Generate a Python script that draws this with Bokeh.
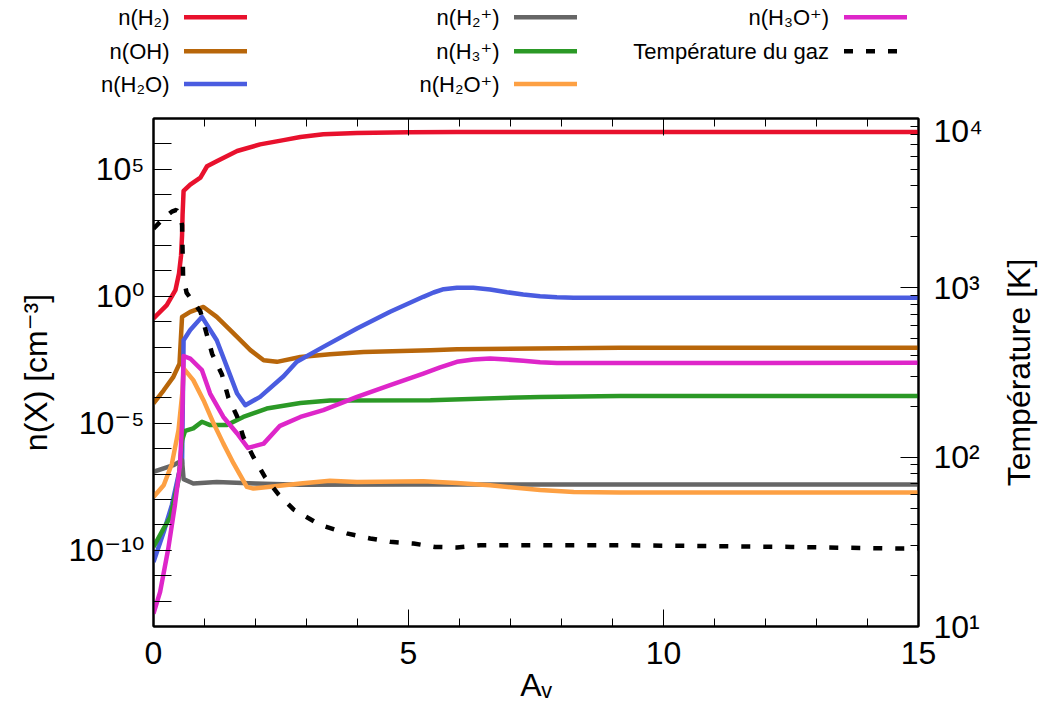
import math
import numpy as np
from bokeh.plotting import figure
from bokeh.models import (Range1d, LogScale, LogAxis, LinearAxis, FixedTicker,
                          CustomJSTickFormatter)
from bokeh.layouts import column, row
from bokeh.embed import file_html
from bokeh.resources import INLINE
from bokeh.core.properties import value

FONT = "Liberation Sans, DejaVu Sans"

# ---------------- data (Av, log10 of density in cm^-3 / temperature in K) ----------------
h2_av = [0.00, 0.26, 0.43, 0.50, 0.54, 0.56, 0.57, 0.59, 0.72, 0.92, 1.05, 1.24, 1.64, 2.09, 2.55, 2.88, 3.33, 3.99, 5.00, 5.95, 8.00, 10.0, 15.0]
h2_log = [-0.87, -0.35, 0.24, 0.90, 1.60, 2.40, 3.20, 4.15, 4.40, 4.67, 5.12, 5.32, 5.72, 5.98, 6.15, 6.27, 6.38, 6.43, 6.46, 6.47, 6.47, 6.47, 6.47]

oh_av = [0.00, 0.20, 0.39, 0.51, 0.56, 0.72, 0.98, 1.24, 1.57, 1.90, 2.16, 2.42, 2.88, 3.46, 4.12, 5.43, 5.95, 9.15, 15.0]
oh_log = [-4.22, -3.70, -3.17, -2.65, -0.81, -0.61, -0.42, -0.81, -1.46, -2.12, -2.52, -2.58, -2.39, -2.28, -2.19, -2.12, -2.08, -2.03, -2.03]

h2o_av = [0.00, 0.20, 0.36, 0.49, 0.56, 0.59, 0.72, 0.95, 1.24, 1.44, 1.64, 1.80, 2.09, 2.55, 2.81, 3.33, 3.99, 4.64, 5.29, 5.49, 5.69, 5.95, 6.27, 6.60, 6.93, 7.25, 7.58, 7.91, 8.24, 9.15, 15.0]
h2o_log = [-10.46, -9.28, -8.22, -7.04, -6.58, -1.73, -1.33, -0.81, -1.73, -2.78, -3.83, -4.29, -3.96, -3.15, -2.58, -1.99, -1.27, -0.61, -0.02, 0.15, 0.28, 0.34, 0.34, 0.27, 0.16, 0.07, 0.00, -0.04, -0.06, -0.06, -0.06]

h2p_av = [0.00, 0.39, 0.52, 0.56, 0.59, 0.78, 1.24, 2.00, 2.88, 5.00, 8.00, 15.0]
h2p_log = [-6.91, -6.65, -6.50, -6.45, -7.20, -7.37, -7.31, -7.37, -7.42, -7.41, -7.41, -7.41]

h3p_av = [0.00, 0.20, 0.33, 0.49, 0.56, 0.62, 0.78, 0.95, 1.11, 1.44, 1.76, 2.22, 2.88, 3.46, 5.43, 7.58, 9.15, 15.0]
h3p_log = [-9.87, -9.14, -8.69, -7.24, -5.67, -5.30, -5.20, -4.94, -5.07, -5.07, -4.75, -4.42, -4.20, -4.10, -4.09, -3.96, -3.93, -3.93]

h2oi_av = [0.00, 0.20, 0.36, 0.49, 0.57, 0.59, 0.78, 0.98, 1.18, 1.37, 1.57, 1.70, 1.83, 1.96, 2.29, 2.88, 3.46, 3.99, 5.29, 5.95, 6.60, 7.58, 8.24, 9.15, 15.0]
h2oi_log = [-7.90, -7.44, -6.60, -5.27, -3.70, -2.84, -3.30, -4.09, -5.01, -5.80, -6.58, -7.04, -7.50, -7.57, -7.50, -7.37, -7.26, -7.31, -7.28, -7.35, -7.44, -7.63, -7.70, -7.72, -7.72]

h3o_av = [0.00, 0.13, 0.29, 0.42, 0.52, 0.56, 0.59, 0.72, 0.95, 1.11, 1.37, 1.64, 1.85, 2.16, 2.48, 2.88, 3.33, 3.99, 4.64, 5.29, 5.62, 5.95, 6.27, 6.60, 6.93, 7.25, 7.58, 7.91, 9.15, 15.0]
h3o_log = [-12.49, -11.64, -9.93, -8.22, -6.65, -5.00, -2.35, -2.45, -2.91, -3.83, -4.75, -5.40, -5.97, -5.80, -5.10, -4.75, -4.48, -3.96, -3.50, -3.04, -2.80, -2.58, -2.49, -2.45, -2.49, -2.54, -2.60, -2.63, -2.63, -2.62]

temp_av = [0.00, 0.20, 0.36, 0.45, 0.53, 0.56, 0.58, 0.65, 0.92, 1.15, 1.34, 1.47, 1.64, 1.76, 1.96, 2.19, 2.45, 2.75, 3.27, 3.79, 4.25, 4.64, 5.10, 5.52, 5.95, 6.41, 7.25, 9.15, 12.5, 14.7, 15.0]
temp_log = [3.35, 3.41, 3.45, 3.46, 3.42, 3.37, 3.07, 2.97, 2.86, 2.61, 2.49, 2.35, 2.24, 2.12, 2.00, 1.88, 1.78, 1.69, 1.60, 1.55, 1.52, 1.50, 1.49, 1.47, 1.467, 1.48, 1.48, 1.48, 1.47, 1.46, 1.46]

labels = ["n(H₂)", "n(OH)", "n(H₂O)", "n(H₂⁺)", "n(H₃⁺)", "n(H₂O⁺)", "n(H₃O⁺)", "Température du gaz"]
colors = ["#e8112d", "#b8660a", "#4a5ce0", "#666666", "#2b9926", "#fda043", "#de26c9", "#000000"]

x_ticks = [0, 5, 10, 15]
x_minor = list(range(0, 16))
n_ticks = [1e-10, 1e-5, 1.0, 1e5]
n_tick_labels = ["10⁻¹⁰", "10⁻⁵", "10⁰", "10⁵"]
n_minor = [10.0 ** k for k in range(-13, 8)]
t_ticks = [10, 100, 1000, 10000]
t_tick_labels = ["10¹", "10²", "10³", "10⁴"]
t_minor = [m * 10 ** d for d in range(1, 4) for m in range(2, 10)]
x_label = "Aᵥ"
n_label = "n(X) [cm⁻³]"
t_label = "Température [K]"

series = [
    (h2_av, h2_log), (oh_av, oh_log), (h2o_av, h2o_log), (h2p_av, h2p_log),
    (h3p_av, h3p_log), (h2oi_av, h2oi_log), (h3o_av, h3o_log),
]

LW = 4.5
DASH = "9 13"

# ---------------- layout (page pixels) ----------------
W, H = 1039, 715
FL, FR, FT, FB = 153, 918, 118, 626
LEG_H = 112
TW = 46              # strip on the right holding the temperature-axis title
PW = W - TW          # width of the main plot and legend strip

# ---------------- legend strip (gnuplot style: text, then sample) ----------------
text_right = [168.5, 499.0, 828.5]
line_start = [183.5, 513.5, 843.5]
row_y = [16.7, 50.7, 83.5]

leg = figure(width=PW, height=LEG_H, x_range=Range1d(FL, FR), y_range=Range1d(LEG_H, 0),
             output_backend="svg", toolbar_location=None,
             min_border_left=FL, min_border_right=PW - FR, min_border_top=0, min_border_bottom=0,
             x_axis_location=None, y_axis_location="left")
leg.grid.visible = False
leg.outline_line_color = None
la = leg.yaxis[0]
la.ticker = FixedTicker(ticks=row_y, minor_ticks=[])
la.major_label_overrides = {row_y[r]: labels[r] for r in range(3)}
la.axis_line_color = None
la.major_tick_line_color = None
la.minor_tick_line_color = None
la.major_tick_out = 0
la.major_tick_in = 0
la.major_label_standoff = -int(round(text_right[0] - FL))
la.major_label_text_font = FONT
la.major_label_text_font_size = "22px"
la.major_label_text_color = "black"

for i, (lab, col) in enumerate(zip(labels, colors)):
    c, r = divmod(i, 3)
    if c > 0:
        leg.text(x=[text_right[c]], y=[row_y[r]], text=[lab], text_align="right",
                 text_baseline="middle", text_font=value(FONT), text_font_size="22px",
                 text_color="black")
    leg.line(x=[line_start[c], line_start[c] + 63], y=[row_y[r], row_y[r]], line_color=col,
             line_width=LW, line_dash=(DASH if i == 7 else "solid"), line_cap="butt")

# ---------------- main plot ----------------
MH = H - LEG_H
p = figure(width=PW, height=MH, x_range=Range1d(0, 15), y_range=Range1d(1e-13, 1e7),
           y_axis_type="log", output_backend="svg", toolbar_location=None,
           min_border_left=FL, min_border_right=PW - FR, min_border_top=FT - LEG_H,
           min_border_bottom=H - FB)
p.extra_y_ranges = {"T": Range1d(10, 1e4)}
p.extra_y_scales = {"T": LogScale()}
p.grid.visible = False
p.outline_line_color = "black"
p.outline_line_width = 2
p.background_fill_color = "white"
p.border_fill_color = "white"

for (av, lg), col in zip(series, colors[:7]):
    p.line(av, np.power(10.0, lg), line_color=col, line_width=LW, line_join="round")
p.line(temp_av, np.power(10.0, temp_log), y_range_name="T", line_color="black",
       line_width=LW, line_dash=DASH)


def style(ax, size="32px"):
    ax.axis_line_color = "black"
    ax.axis_line_width = 2
    ax.major_tick_line_color = "black"
    ax.minor_tick_line_color = "black"
    ax.major_tick_out = 0
    ax.minor_tick_out = 0
    ax.major_label_text_font = FONT
    ax.major_label_text_font_size = size
    ax.major_label_text_color = "black"
    ax.axis_label_text_font = FONT
    ax.axis_label_text_font_size = "32px"
    ax.axis_label_text_font_style = "normal"
    ax.axis_label_text_color = "black"


xa = p.xaxis[0]
style(xa)
xa.ticker = FixedTicker(ticks=x_ticks, minor_ticks=x_minor)
xa.major_tick_in = 17
xa.minor_tick_in = 8
xa.major_label_standoff = 15
xa.axis_label = x_label
xa.axis_label_standoff = 0

top = LinearAxis(ticker=FixedTicker(ticks=x_ticks, minor_ticks=x_minor),
                 formatter=CustomJSTickFormatter(code="return ''"))
style(top)
top.major_tick_in = 17
top.minor_tick_in = 8
top.major_label_standoff = 0
p.add_layout(top, "above")

ya = p.yaxis[0]
style(ya)
ya.ticker = FixedTicker(ticks=n_ticks, minor_ticks=n_minor)
ya.major_tick_in = 18
ya.minor_tick_in = 18
ya.major_label_standoff = 9
ya.major_label_overrides = dict(zip(n_ticks, n_tick_labels))
ya.axis_label = n_label
ya.axis_label_standoff = 12

ra = LogAxis(y_range_name="T", ticker=FixedTicker(ticks=t_ticks, minor_ticks=t_minor))
style(ra)
ra.major_tick_in = 18
ra.minor_tick_in = 8
ra.major_label_standoff = 15
ra.major_label_overrides = dict(zip(t_ticks, t_tick_labels))
p.add_layout(ra, "right")

# ---------------- right strip: temperature-axis title, reading bottom to top ----------------
tf = figure(width=TW, height=MH, x_range=Range1d(PW, W), y_range=Range1d(0, 1),
            output_backend="svg", toolbar_location=None,
            min_border_left=0, min_border_right=0, min_border_top=FT - LEG_H,
            min_border_bottom=H - FB, x_axis_location=None, y_axis_location=None)
tf.grid.visible = False
tf.outline_line_color = None
tf.text(x=[1018], y=[0.5], text=[t_label], angle=math.pi / 2, text_align="center",
        text_baseline="middle", text_font=value(FONT), text_font_size="32px",
        text_color="black")

layout = column(leg, row(p, tf, spacing=0), spacing=0)
open("out.html", "w").write(file_html(layout, INLINE))
